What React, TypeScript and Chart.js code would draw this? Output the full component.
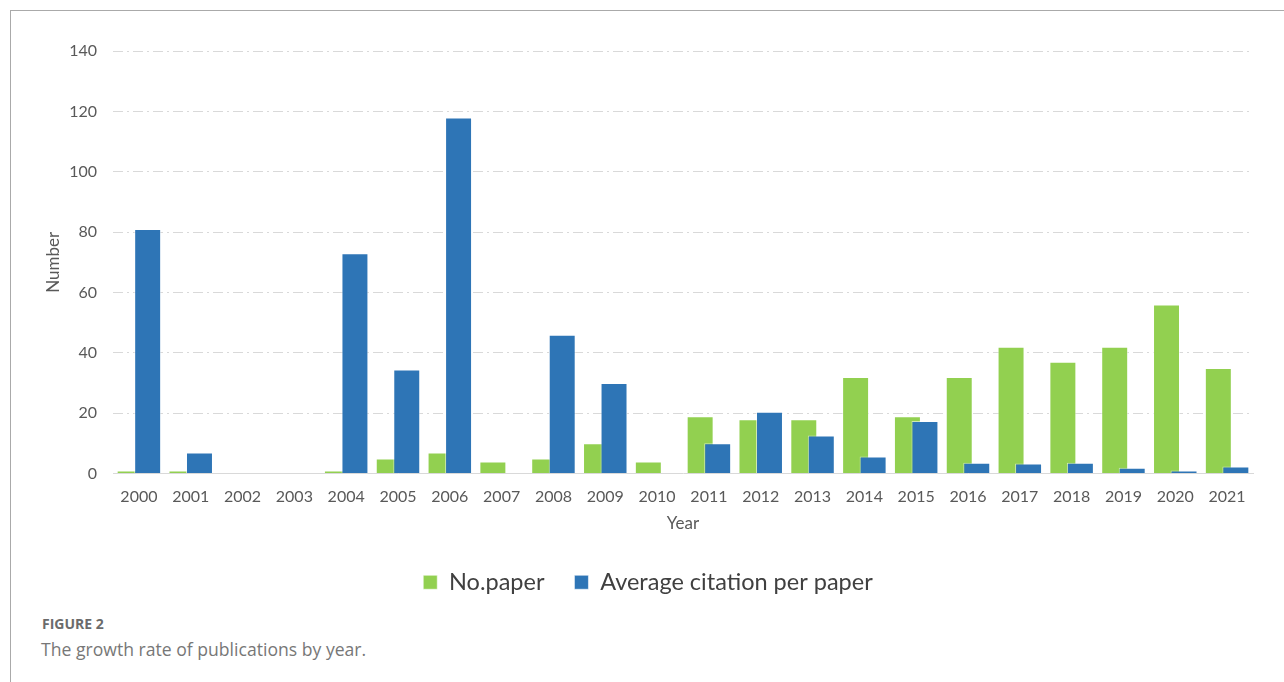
import React, { useEffect, useRef } from "react";
import { Chart, registerables } from "chart.js";

Chart.register(...registerables);

const years = ["2000","2001","2002","2003","2004","2005","2006","2007","2008","2009","2010","2011","2012","2013","2014","2015","2016","2017","2018","2019","2020","2021"];
const noPaper = [1,1,0,0,1,5,7,4,5,10,4,19,18,18,32,19,32,42,37,42,56,35];
const avgCitation = [81,7,0,0,73,34.5,118,0,46,30,0,10,20.5,12.6,5.6,17.4,3.6,3.3,3.6,1.9,1,2.3];
const seriesNames = ["No.paper", "Average citation per paper"];
const yTicks = [0, 20, 40, 60, 80, 100, 120, 140];
const xTitle = "Year";
const yTitle = "Number";
const captionLabel = "FIGURE 2";
const captionText = "The growth rate of publications by year.";

const FONT = "Lato, 'Open Sans', sans-serif";

const drawOrderPlugin = {
  id: "drawOrder",
  beforeDatasetsDraw(chart: any) {
    const metas = chart.getSortedVisibleDatasetMetas();
    for (const meta of metas) {
      meta.controller.draw();
    }
    return false;
  },
};

export default function App() {
  const ref = useRef<HTMLCanvasElement | null>(null);

  useEffect(() => {
    if (!ref.current) return;
    const chart = new Chart(ref.current, {
      type: "bar",
      data: {
        labels: years,
        datasets: [
          {
            label: seriesNames[0],
            data: noPaper,
            backgroundColor: "#92d050",
            borderColor: "rgba(255,255,255,0.55)",
            borderWidth: 1,
            categoryPercentage: 0.676,
            barPercentage: 1.54,
          },
          {
            label: seriesNames[1],
            data: avgCitation,
            backgroundColor: "#2e75b6",
            borderColor: "rgba(255,255,255,0.55)",
            borderWidth: 1,
            categoryPercentage: 0.676,
            barPercentage: 1.54,
          },
        ],
      },
      options: {
        animation: false,
        responsive: true,
        maintainAspectRatio: false,
        layout: { padding: { top: 51, left: 43, right: 31, bottom: 0 } },
        plugins: {
          tooltip: { enabled: false },
          legend: {
            position: "bottom",
            labels: {
              boxWidth: 14,
              boxHeight: 14,
              padding: 30,
              color: "#404040",
              font: { family: FONT, size: 23.5 },
            },
          },
        },
        scales: {
          x: {
            grid: { display: false, drawTicks: false },
            border: { display: true, color: "#d9d9d9", width: 1 },
            ticks: { color: "#595959", font: { family: FONT, size: 16 }, padding: 14, maxRotation: 0, autoSkip: false },
            title: { display: true, text: xTitle, color: "#595959", font: { family: FONT, size: 17 }, padding: { top: 0, bottom: 7 } },
            afterFit(scale: any) { scale.height = 67; },
          },
          y: {
            min: 0,
            max: 140,
            afterBuildTicks(scale: any) { scale.ticks = yTicks.map((v) => ({ value: v })); },
            grid: {
              color: (ctx: any) => (ctx.tick && ctx.tick.value === 0 ? "rgba(0,0,0,0)" : "#d9d9d9"),
              lineWidth: 1,
              drawTicks: false,
            },
            border: { display: false, dash: [10, 4, 2, 4] },
            ticks: { color: "#595959", font: { family: FONT, size: 16 }, padding: 16 },
            title: { display: true, text: yTitle, color: "#595959", font: { family: FONT, size: 17 }, padding: { top: 0, bottom: 0 } },
            afterFit(scale: any) { scale.width = 70; },
          },
        },
      },
      plugins: [drawOrderPlugin],
    });
    return () => chart.destroy();
  }, []);

  return (
    <div style={{ position: "absolute", left: 0, top: 0, width: 1284, height: 682, background: "#fff", overflow: "hidden" }}>
      <div style={{ position: "absolute", left: 10, top: 10, width: 1274, height: 1, background: "#aaaaaa" }} />
      <div style={{ position: "absolute", left: 10, top: 10, width: 1, height: 672, background: "#aaaaaa" }} />
      <div style={{ position: "absolute", left: 0, top: 0, width: 1284, height: 604 }}>
        <canvas ref={ref} />
      </div>
      <div style={{ position: "absolute", left: 42, top: 614, fontFamily: "'Open Sans', sans-serif", fontWeight: 700, fontSize: 14, color: "#6b6b6b" }}>
        {captionLabel}
      </div>
      <div style={{ position: "absolute", left: 41, top: 637, fontFamily: "'Open Sans', sans-serif", fontWeight: 400, fontSize: 17.6, color: "#777777" }}>
        {captionText}
      </div>
    </div>
  );
}
